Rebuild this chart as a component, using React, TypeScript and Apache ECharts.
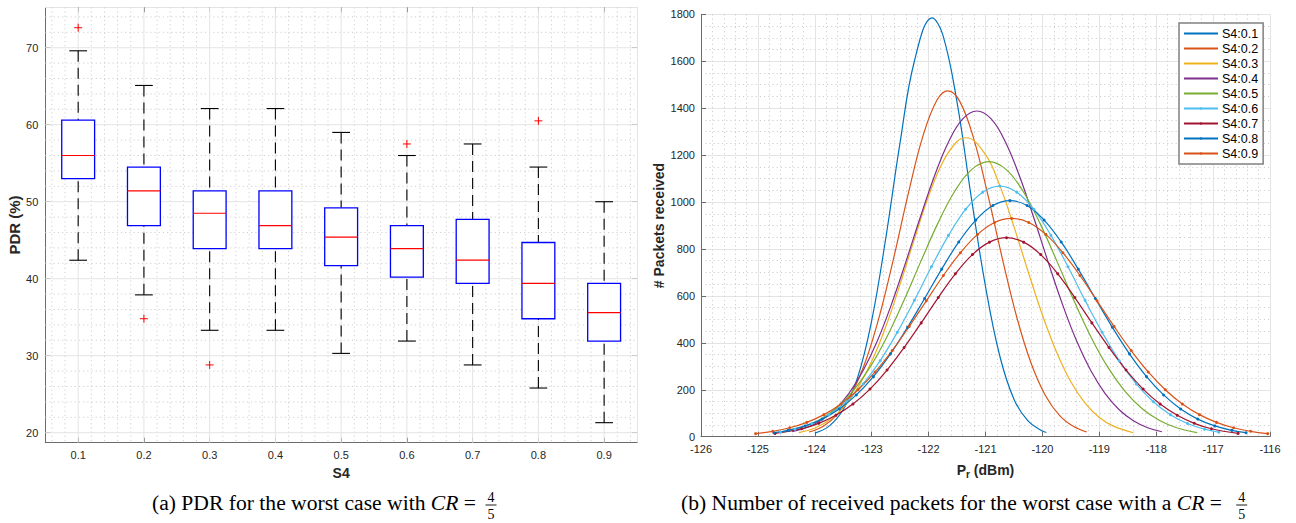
import React, { useEffect, useRef } from 'react';
import * as echarts from 'echarts';

const FONT = 'Liberation Sans, Arial, Helvetica, sans-serif';
const SERIF = 'Liberation Serif, Times New Roman, serif';

// ---------- Left chart (box plot) ----------
const s4Labels = ['0.1', '0.2', '0.3', '0.4', '0.5', '0.6', '0.7', '0.8', '0.9'];
const boxPos = [1, 2, 3, 4, 5, 6, 7, 8, 9];
const whiskerLow = [42.4, 37.9, 33.3, 33.3, 30.3, 31.9, 28.8, 25.8, 21.3];
const q1 = [53.0, 46.9, 43.9, 43.9, 41.7, 40.2, 39.4, 34.8, 31.9];
const medians = [56.0, 51.4, 48.5, 46.9, 45.4, 43.9, 42.4, 39.4, 35.6];
const q3 = [60.6, 54.5, 51.4, 51.4, 49.2, 46.9, 47.7, 44.7, 39.4];
const whiskerHigh = [69.6, 65.1, 62.1, 62.1, 59.0, 56.0, 57.5, 54.5, 50.0];
const outlierPos = [1, 2, 3, 6, 8];
const outlierVal = [72.6, 34.8, 28.8, 57.5, 60.5];
const pdrTicks = [20, 30, 40, 50, 60, 70];
const pdrMin = 18.7;
const pdrMax = 75.25;

// ---------- Right chart (received packets) ----------
const seriesNames = ['S4:0.1', 'S4:0.2', 'S4:0.3', 'S4:0.4', 'S4:0.5', 'S4:0.6', 'S4:0.7', 'S4:0.8', 'S4:0.9'];
const seriesColors = ['#0072BD', '#D95319', '#EDB120', '#7E2F8E', '#77AC30', '#4DBEEE', '#A2142F', '#0072BD', '#D95319'];
const seriesMarkers = [false, false, false, false, false, true, true, true, true];

const curve01 = [[-124.0, 15], [-123.75, 45], [-123.5, 116], [-123.25, 250], [-123.0, 495], [-122.75, 850], [-122.5, 1255], [-122.25, 1600], [-121.94, 1785], [-121.75, 1712], [-121.5, 1425], [-121.25, 1020], [-121.0, 640], [-120.75, 345], [-120.5, 160], [-120.25, 66], [-120.0, 24], [-119.93, 18]];
const curve02 = [[-124.1, 20], [-123.85, 45], [-123.6, 96], [-123.35, 185], [-123.1, 327], [-122.85, 527], [-122.6, 776], [-122.35, 1043], [-122.1, 1281], [-121.85, 1436], [-121.66, 1474], [-121.45, 1428], [-121.2, 1264], [-120.95, 1022], [-120.7, 755], [-120.45, 509], [-120.2, 314], [-119.95, 177], [-119.7, 91], [-119.45, 43], [-119.22, 20]];
const curve03 = [[-124.28, 17], [-124.0, 37], [-123.75, 70], [-123.5, 124], [-123.25, 206], [-123.0, 321], [-122.75, 471], [-122.5, 650], [-122.25, 842], [-122.0, 1025], [-121.75, 1171], [-121.5, 1258], [-121.34, 1274], [-121.0, 1202], [-120.75, 1071], [-120.5, 895], [-120.25, 703], [-120.0, 519], [-119.75, 360], [-119.5, 234], [-119.25, 143], [-119.0, 82], [-118.75, 45], [-118.4, 17]];
const curve04 = [[-124.4, 21], [-124.15, 38], [-123.9, 68], [-123.65, 115], [-123.4, 185], [-123.15, 282], [-122.9, 409], [-122.65, 566], [-122.4, 745], [-122.15, 932], [-121.9, 1109], [-121.65, 1256], [-121.4, 1354], [-121.15, 1388], [-120.9, 1354], [-120.65, 1256], [-120.4, 1109], [-120.15, 932], [-119.9, 745], [-119.65, 566], [-119.4, 409], [-119.15, 282], [-118.9, 185], [-118.65, 115], [-118.4, 68], [-118.15, 38], [-117.9, 21]];
const curve05 = [[-124.6, 17], [-124.24, 38], [-123.94, 69], [-123.64, 118], [-123.34, 191], [-123.04, 292], [-122.74, 422], [-122.44, 577], [-122.14, 745], [-121.84, 908], [-121.54, 1046], [-121.24, 1139], [-120.94, 1172], [-120.64, 1139], [-120.34, 1046], [-120.04, 908], [-119.74, 745], [-119.44, 577], [-119.14, 422], [-118.84, 292], [-118.54, 191], [-118.24, 118], [-117.94, 69], [-117.64, 38], [-117.28, 17]];
const curve06 = [[-124.6, 19], [-124.35, 32], [-124.05, 56], [-123.75, 94], [-123.45, 149], [-123.15, 225], [-122.85, 324], [-122.55, 445], [-122.25, 581], [-121.95, 724], [-121.65, 858], [-121.35, 969], [-121.05, 1042], [-120.75, 1068], [-120.45, 1042], [-120.15, 969], [-119.85, 858], [-119.55, 724], [-119.25, 581], [-118.95, 445], [-118.65, 324], [-118.35, 225], [-118.05, 149], [-117.75, 94], [-117.45, 56], [-117.15, 32], [-116.9, 19]];
const curve07 = [[-124.7, 14], [-124.23, 34], [-123.93, 57], [-123.63, 91], [-123.33, 139], [-123.03, 203], [-122.73, 284], [-122.43, 380], [-122.13, 485], [-121.83, 593], [-121.53, 694], [-121.23, 776], [-120.93, 829], [-120.63, 848], [-120.33, 829], [-120.03, 776], [-119.73, 694], [-119.43, 593], [-119.13, 485], [-118.83, 380], [-118.53, 284], [-118.23, 203], [-117.93, 139], [-117.63, 91], [-117.33, 57], [-117.03, 34], [-116.56, 14]];
const curve08 = [[-124.72, 17], [-124.47, 27], [-124.17, 46], [-123.87, 75], [-123.57, 118], [-123.27, 178], [-122.97, 256], [-122.67, 353], [-122.37, 466], [-122.07, 589], [-121.77, 714], [-121.47, 830], [-121.17, 923], [-120.87, 985], [-120.57, 1006], [-120.27, 985], [-119.97, 923], [-119.67, 830], [-119.37, 714], [-119.07, 589], [-118.77, 466], [-118.47, 353], [-118.17, 256], [-117.87, 178], [-117.57, 118], [-117.27, 75], [-116.97, 46], [-116.67, 27], [-116.42, 17]];
const curve09 = [[-125.04, 13], [-124.74, 23], [-124.44, 38], [-124.14, 61], [-123.84, 94], [-123.54, 139], [-123.24, 200], [-122.94, 276], [-122.64, 367], [-122.34, 470], [-122.04, 579], [-121.74, 687], [-121.44, 784], [-121.14, 862], [-120.84, 913], [-120.54, 930], [-120.24, 913], [-119.94, 862], [-119.64, 784], [-119.34, 687], [-119.04, 579], [-118.74, 470], [-118.44, 367], [-118.14, 276], [-117.84, 200], [-117.54, 139], [-117.24, 94], [-116.94, 61], [-116.64, 38], [-116.34, 23], [-116.04, 13]];
const curves = [curve01, curve02, curve03, curve04, curve05, curve06, curve07, curve08, curve09];

// ---------- styles ----------
const AXIS_COLOR = '#6b6b6b';
const LABEL_COLOR = '#262626';
const MAJOR_GRID = { stroke: '#e4e4e4', lineWidth: 1 };
const MINOR_GRID = { stroke: '#cfcfcf', lineWidth: 1, lineDash: [1.2, 3] };
const CAPTION_SIZE = 21.6;

// minor grid positions of the left chart (every 0.2 on x, every 2 on y)
const minorX: number[] = [];
for (let i = 0; i <= 9; i++) {
  [0.2, 0.4, 0.6, 0.8].forEach((f) => {
    const v = Math.round((i + f) * 10) / 10;
    if (v > 0.5 && v < 9.5) minorX.push(v);
  });
}
const minorY: number[] = [];
for (let v = 20; v < pdrMax; v += 2) {
  if (v % 10 !== 0) minorY.push(v);
}

function gridSeries(xi: number, yi: number, vals: number[], vertical: boolean, style: any) {
  return {
    type: 'custom',
    xAxisIndex: xi,
    yAxisIndex: yi,
    silent: true,
    z: 1,
    data: vals.map((v) => [v, v]),
    renderItem: (params: any, api: any) => {
      const cs = params.coordSys;
      const v = api.value(0);
      if (vertical) {
        const x = api.coord([v, 40])[0];
        return { type: 'line', shape: { x1: x, y1: cs.y, x2: x, y2: cs.y + cs.height }, style: { ...style } };
      }
      const y = api.coord([5, v])[1];
      return { type: 'line', shape: { x1: cs.x, y1: y, x2: cs.x + cs.width, y2: y }, style: { ...style } };
    },
  };
}

const captionStyle = (text: string) => ({
  text,
  fontSize: CAPTION_SIZE,
  fontFamily: SERIF,
  fill: '#000',
  align: 'right',
  verticalAlign: 'middle',
  rich: {
    i: { fontStyle: 'italic', fontSize: CAPTION_SIZE, fontFamily: SERIF, fill: '#000' },
  },
});

function fraction(cx: number) {
  return [
    { type: 'text', x: cx, y: 497, style: { text: '4', fontSize: 14, fontFamily: SERIF, fill: '#000', align: 'center', verticalAlign: 'middle' } },
    { type: 'line', shape: { x1: cx - 5.5, y1: 505, x2: cx + 5.5, y2: 505 }, style: { stroke: '#000', lineWidth: 0.9 } },
    { type: 'text', x: cx, y: 514, style: { text: '5', fontSize: 14, fontFamily: SERIF, fill: '#000', align: 'center', verticalAlign: 'middle' } },
  ];
}

export default function App() {
  const ref = useRef<HTMLDivElement>(null);

  useEffect(() => {
    if (!ref.current) return;
    const chart = echarts.init(ref.current, undefined, { renderer: 'svg' });

    const boxData = boxPos.map((p, i) => [p, whiskerLow[i], q1[i], medians[i], q3[i], whiskerHigh[i]]);
    const outlierData = outlierPos.map((p, i) => [p, outlierVal[i]]);

    const lineSeries = curves.map((c, i) => ({
      name: seriesNames[i],
      type: 'line',
      xAxisIndex: 2,
      yAxisIndex: 2,
      data: c,
      smooth: 0.4,
      z: 5,
      symbol: 'circle',
      symbolSize: 3,
      showSymbol: seriesMarkers[i],
      itemStyle: { color: seriesColors[i] },
      lineStyle: { color: seriesColors[i], width: 1.2 },
      emphasis: { disabled: true },
    }));

    const legendData = seriesNames.map((n, i) => (seriesMarkers[i] ? { name: n } : { name: n, itemStyle: { opacity: 0 } }));

    const option: any = {
      animation: false,
      backgroundColor: '#ffffff',
      textStyle: { fontFamily: FONT },
      grid: [
        { left: 45.3, top: 7.3, width: 591.7, height: 435.4, outerBoundsMode: 'none' },
        { left: 701, top: 14.3, width: 569, height: 422.4, outerBoundsMode: 'none' },
      ],
      legend: {
        orient: 'vertical',
        left: 1179,
        top: 23,
        itemWidth: 34,
        itemHeight: 3,
        itemGap: 2,
        padding: [4, 5, 4, 4],
        borderColor: '#808080',
        borderWidth: 1.5,
        borderRadius: 0,
        backgroundColor: '#ffffff',
        textStyle: { fontSize: 12.5, fontFamily: FONT, color: '#000', padding: [0, 0, 0, -1] },
        data: legendData,
        selectedMode: false,
      },
      xAxis: [
        {
          type: 'value',
          gridIndex: 0,
          min: 0.5,
          max: 9.5,
          position: 'bottom',
          axisLine: { show: true, lineStyle: { color: AXIS_COLOR, width: 1 } },
          axisTick: { show: true, inside: true, length: 5, customValues: boxPos, lineStyle: { color: AXIS_COLOR } },
          axisLabel: {
            customValues: boxPos,
            formatter: (v: number) => s4Labels[Math.round(v) - 1] ?? '',
            color: LABEL_COLOR,
            fontSize: 11,
            fontFamily: FONT,
            margin: 7,
          },
          splitLine: { show: false },
          name: 'S4',
          nameLocation: 'middle',
          nameGap: 23,
          nameTextStyle: { fontSize: 14, fontWeight: 'bold', color: LABEL_COLOR, fontFamily: FONT },
        },
        {
          type: 'value',
          gridIndex: 0,
          min: 0.5,
          max: 9.5,
          position: 'top',
          axisLine: { show: true, lineStyle: { color: '#e4e4e4', width: 1 } },
          axisTick: { show: true, inside: true, length: 5, customValues: boxPos, lineStyle: { color: AXIS_COLOR } },
          axisLabel: { show: false },
          splitLine: { show: false },
        },
        {
          type: 'value',
          gridIndex: 1,
          min: -126,
          max: -116,
          interval: 1,
          axisLine: { show: true, lineStyle: { color: AXIS_COLOR, width: 1 } },
          axisTick: { show: true, inside: true, length: 5, lineStyle: { color: AXIS_COLOR } },
          axisLabel: { color: LABEL_COLOR, fontSize: 11, fontFamily: FONT, margin: 7, formatter: (v: number) => String(v) },
          splitLine: { show: true, lineStyle: { color: '#e4e4e4', width: 1 } },
          minorTick: { show: false, splitNumber: 5 },
          minorSplitLine: { show: true, lineStyle: { color: '#cfcfcf', width: 1, type: [1.2, 3] } },
          name: '{p|P}{s|r}{n| (dBm)}',
          nameLocation: 'middle',
          nameGap: 23,
          nameTextStyle: {
            color: LABEL_COLOR,
            rich: {
              p: { fontSize: 14, fontWeight: 'bold', fontFamily: FONT, color: LABEL_COLOR },
              s: { fontSize: 10, fontWeight: 'bold', fontFamily: FONT, color: LABEL_COLOR, padding: [10, 0, 0, 0] },
              n: { fontSize: 14, fontWeight: 'bold', fontFamily: FONT, color: LABEL_COLOR },
            },
          },
        },
      ],
      yAxis: [
        {
          type: 'value',
          gridIndex: 0,
          min: pdrMin,
          max: pdrMax,
          position: 'left',
          axisLine: { show: true, lineStyle: { color: AXIS_COLOR, width: 1 } },
          axisTick: { show: true, inside: true, length: 5, customValues: pdrTicks, lineStyle: { color: AXIS_COLOR } },
          axisLabel: { customValues: pdrTicks, color: LABEL_COLOR, fontSize: 11, fontFamily: FONT, margin: 7 },
          splitLine: { show: false },
          name: 'PDR (%)',
          nameLocation: 'middle',
          nameGap: 22,
          nameTextStyle: { fontSize: 15, fontWeight: 'bold', color: LABEL_COLOR, fontFamily: FONT },
        },
        {
          type: 'value',
          gridIndex: 0,
          min: pdrMin,
          max: pdrMax,
          position: 'right',
          axisLine: { show: true, lineStyle: { color: '#e4e4e4', width: 1 } },
          axisTick: { show: true, inside: true, length: 5, customValues: pdrTicks, lineStyle: { color: AXIS_COLOR } },
          axisLabel: { show: false },
          splitLine: { show: false },
        },
        {
          type: 'value',
          gridIndex: 1,
          min: 0,
          max: 1800,
          interval: 200,
          axisLine: { show: true, lineStyle: { color: AXIS_COLOR, width: 1 } },
          axisTick: { show: true, inside: true, length: 5, lineStyle: { color: AXIS_COLOR } },
          axisLabel: { color: LABEL_COLOR, fontSize: 11, fontFamily: FONT, margin: 6, formatter: (v: number) => String(v) },
          splitLine: { show: true, lineStyle: { color: '#e4e4e4', width: 1 } },
          minorTick: { show: false, splitNumber: 4 },
          minorSplitLine: { show: true, lineStyle: { color: '#cfcfcf', width: 1, type: [1.2, 3] } },
          name: '# Packets received',
          nameLocation: 'middle',
          nameGap: 35,
          nameTextStyle: { fontSize: 14, fontWeight: 'bold', color: LABEL_COLOR, fontFamily: FONT },
        },
      ],
      series: [
        gridSeries(0, 0, minorX, true, MINOR_GRID),
        gridSeries(0, 0, minorY, false, MINOR_GRID),
        gridSeries(0, 0, boxPos, true, MAJOR_GRID),
        gridSeries(0, 0, pdrTicks, false, MAJOR_GRID),
        {
          type: 'custom',
          name: 'box',
          xAxisIndex: 0,
          yAxisIndex: 0,
          z: 3,
          silent: true,
          data: boxData,
          renderItem: (params: any, api: any) => {
            const x = api.value(0);
            const pLo = api.coord([x, api.value(1)]);
            const pQ1 = api.coord([x, api.value(2)]);
            const pMed = api.coord([x, api.value(3)]);
            const pQ3 = api.coord([x, api.value(4)]);
            const pHi = api.coord([x, api.value(5)]);
            const cx = pMed[0];
            const halfBox = api.size([0.5, 0])[0] / 2;
            const halfCap = api.size([0.27, 0])[0] / 2;
            const dash = { stroke: '#000', lineWidth: 1.1, lineDash: [11, 6] };
            return {
              type: 'group',
              children: [
                { type: 'line', shape: { x1: cx, y1: pHi[1], x2: cx, y2: pQ3[1] }, style: { ...dash } },
                { type: 'line', shape: { x1: cx, y1: pLo[1], x2: cx, y2: pQ1[1] }, style: { ...dash } },
                { type: 'line', shape: { x1: cx - halfCap, y1: pHi[1], x2: cx + halfCap, y2: pHi[1] }, style: { stroke: '#000', lineWidth: 1.1 } },
                { type: 'line', shape: { x1: cx - halfCap, y1: pLo[1], x2: cx + halfCap, y2: pLo[1] }, style: { stroke: '#000', lineWidth: 1.1 } },
                { type: 'rect', shape: { x: cx - halfBox, y: pQ3[1], width: halfBox * 2, height: pQ1[1] - pQ3[1] }, style: { fill: '#fff', stroke: '#0000ff', lineWidth: 1.3 } },
                { type: 'line', shape: { x1: cx - halfBox, y1: pMed[1], x2: cx + halfBox, y2: pMed[1] }, style: { stroke: '#ff0000', lineWidth: 1.2 } },
              ],
            };
          },
        },
        {
          type: 'custom',
          name: 'outliers',
          xAxisIndex: 0,
          yAxisIndex: 0,
          z: 4,
          silent: true,
          data: outlierData,
          renderItem: (params: any, api: any) => {
            const p = api.coord([api.value(0), api.value(1)]);
            const s = { stroke: '#ff0000', lineWidth: 1 };
            return {
              type: 'group',
              children: [
                { type: 'line', shape: { x1: p[0] - 4, y1: p[1], x2: p[0] + 4, y2: p[1] }, style: { ...s } },
                { type: 'line', shape: { x1: p[0], y1: p[1] - 4, x2: p[0], y2: p[1] + 4 }, style: { ...s } },
              ],
            };
          },
        },
        ...lineSeries,
      ],
      graphic: [
        { type: 'text', x: 476, y: 503, style: captionStyle('(a) PDR for the worst case with {i|CR} =') },
        ...fraction(491),
        { type: 'text', x: 1222, y: 503, style: captionStyle('(b) Number of received packets for the worst case with a {i|CR} =') },
        ...fraction(1241.7),
      ],
    };

    chart.setOption(option);
    return () => chart.dispose();
  }, []);

  return <div ref={ref} style={{ position: 'absolute', left: 0, top: 0, width: 1296, height: 523, background: '#fff' }} />;
}
